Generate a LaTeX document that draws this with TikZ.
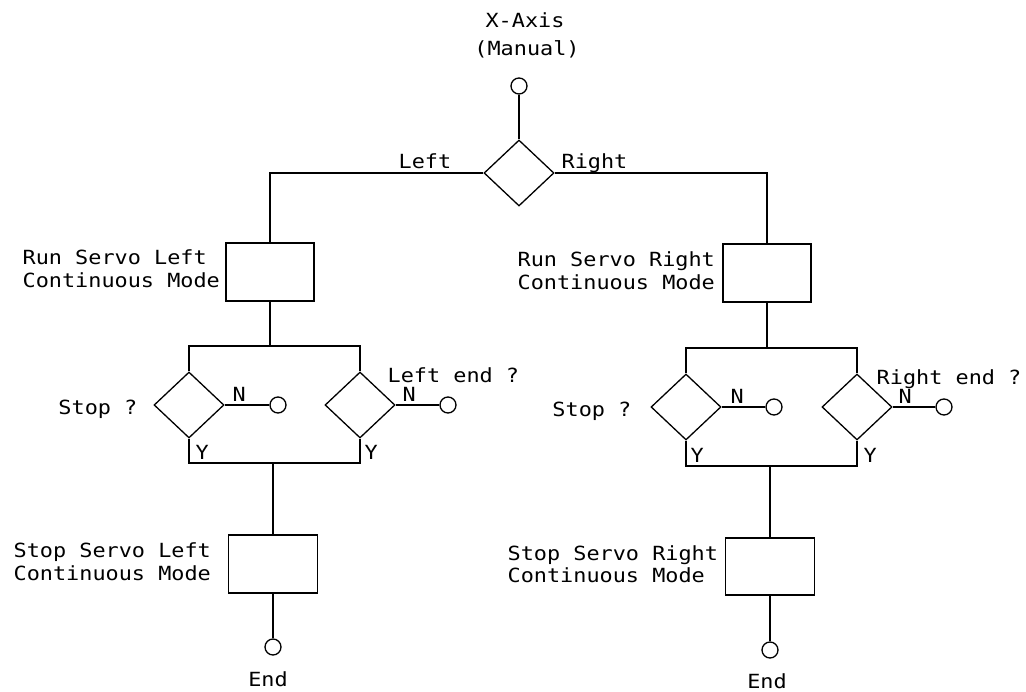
\documentclass[tikz,border=0pt]{standalone}
\usepackage{fontspec}
\newfontfamily\cad[FakeStretch=1.12]{DejaVu Sans Mono}
\usetikzlibrary{shapes.geometric}
\begin{document}
\begin{tikzpicture}[x=1pt,y=-1pt,line width=1.3pt,
  term/.style={circle,draw,minimum size=16pt,inner sep=0pt},
  dec/.style={diamond,draw,minimum width=70pt,minimum height=66pt,inner sep=0pt},
  proc/.style={rectangle,draw,minimum width=88pt,minimum height=58pt,inner sep=0pt},
  lbl/.style={font=\cad\fontsize{19.5}{22}\selectfont,inner sep=0pt}]
\useasboundingbox (0,0) rectangle (1026,692);
% top
\node[term] (s) at (519,86) {};
\node[dec] (d0) at (519,173) {};
\node[lbl,anchor=base] (tx) at (525,28) {X-Axis};
\node[lbl,anchor=base] (tm) at (527,56) {(Manual)};
\node[lbl,anchor=base west] (lleft) at (398,169) {Left};
\node[lbl,anchor=base west] (lright) at (561,169) {Right};
% boxes
\node[proc] (bL) at (270,272) {};
\node[proc] (bR) at (767,273) {};
\node[lbl,anchor=base west] (tbL1) at (22,265) {Run Servo Left};
\node[lbl,anchor=base west] (tbL2) at (22,288) {Continuous Mode};
\node[lbl,anchor=base west] (tbR1) at (517,267) {Run Servo Right};
\node[lbl,anchor=base west] (tbR2) at (517,290) {Continuous Mode};
% decisions left
\coordinate (jL) at (270,346);
\coordinate (kL) at (273,463);
\node[dec] (dL1) at (189,405) {};
\node[dec] (dL2) at (360,405) {};
\node[term] (cL1) at (278,405) {};
\node[term] (cL2) at (448,405) {};
\node[lbl,anchor=base east] (tsL) at (138,415) {Stop ?};
\node[lbl,anchor=base west] (teL) at (387,383) {Left end ?};
\node[lbl,anchor=base west] (nL1) at (232,402) {N};
\node[lbl,anchor=base west] (nL2) at (402,402) {N};
\node[lbl,anchor=base west] (yL1) at (195,460) {Y};
\node[lbl,anchor=base west] (yL2) at (364,460) {Y};
% decisions right
\coordinate (jR) at (767,348);
\coordinate (kR) at (770,466);
\node[dec] (dR1) at (686,407) {};
\node[dec] (dR2) at (857,407) {};
\node[term] (cR1) at (774,407) {};
\node[term] (cR2) at (944,407) {};
\node[lbl,anchor=base east] (tsR) at (632,417) {Stop ?};
\node[lbl,anchor=base east] (teR) at (1022,385) {Right end ?};
\node[lbl,anchor=base west] (nR1) at (730,404) {N};
\node[lbl,anchor=base west] (nR2) at (898,404) {N};
\node[lbl,anchor=base west] (yR1) at (690,463) {Y};
\node[lbl,anchor=base west] (yR2) at (863,463) {Y};
% stop boxes
\node[proc,minimum width=89pt] (sL) at (273,564) {};
\node[proc,minimum width=89pt,minimum height=57pt] (sR) at (770,566.5) {};
\node[lbl,anchor=base west] (tsL1) at (13,558) {Stop Servo Left};
\node[lbl,anchor=base west] (tsL2) at (13,580) {Continuous Mode};
\node[lbl,anchor=base west] (tsR1) at (507,560) {Stop Servo Right};
\node[lbl,anchor=base west] (tsR2) at (507,582) {Continuous Mode};
\node[term] (eL) at (273,647) {};
\node[term] (eR) at (770,650) {};
\node[lbl,anchor=base] (tendL) at (268,686) {End};
\node[lbl,anchor=base] (tendR) at (767,688) {End};
% connectors
\draw (s) -- (d0);
\draw (d0.west) -| (bL.north);
\draw (d0.east) -| (bR.north);
\draw (bL.south) -- (jL);
\draw (bR.south) -- (jR);
\draw (dL1.north) -- (dL1.north |- jL) -- (dL2.north |- jL) -- (dL2.north);
\draw (dR1.north) -- (dR1.north |- jR) -- (dR2.north |- jR) -- (dR2.north);
\draw (dL1.east) -- (cL1);
\draw (dL2.east) -- (cL2);
\draw (dR1.east) -- (cR1);
\draw (dR2.east) -- (cR2);
\draw (dL1.south) -- (dL1.south |- kL) -- (dL2.south |- kL) -- (dL2.south);
\draw (dR1.south) -- (dR1.south |- kR) -- (dR2.south |- kR) -- (dR2.south);
\draw (kL) -- (sL.north);
\draw (kR) -- (sR.north);
\draw (sL) -- (eL);
\draw (sR) -- (eR);
\end{tikzpicture}
\end{document}
